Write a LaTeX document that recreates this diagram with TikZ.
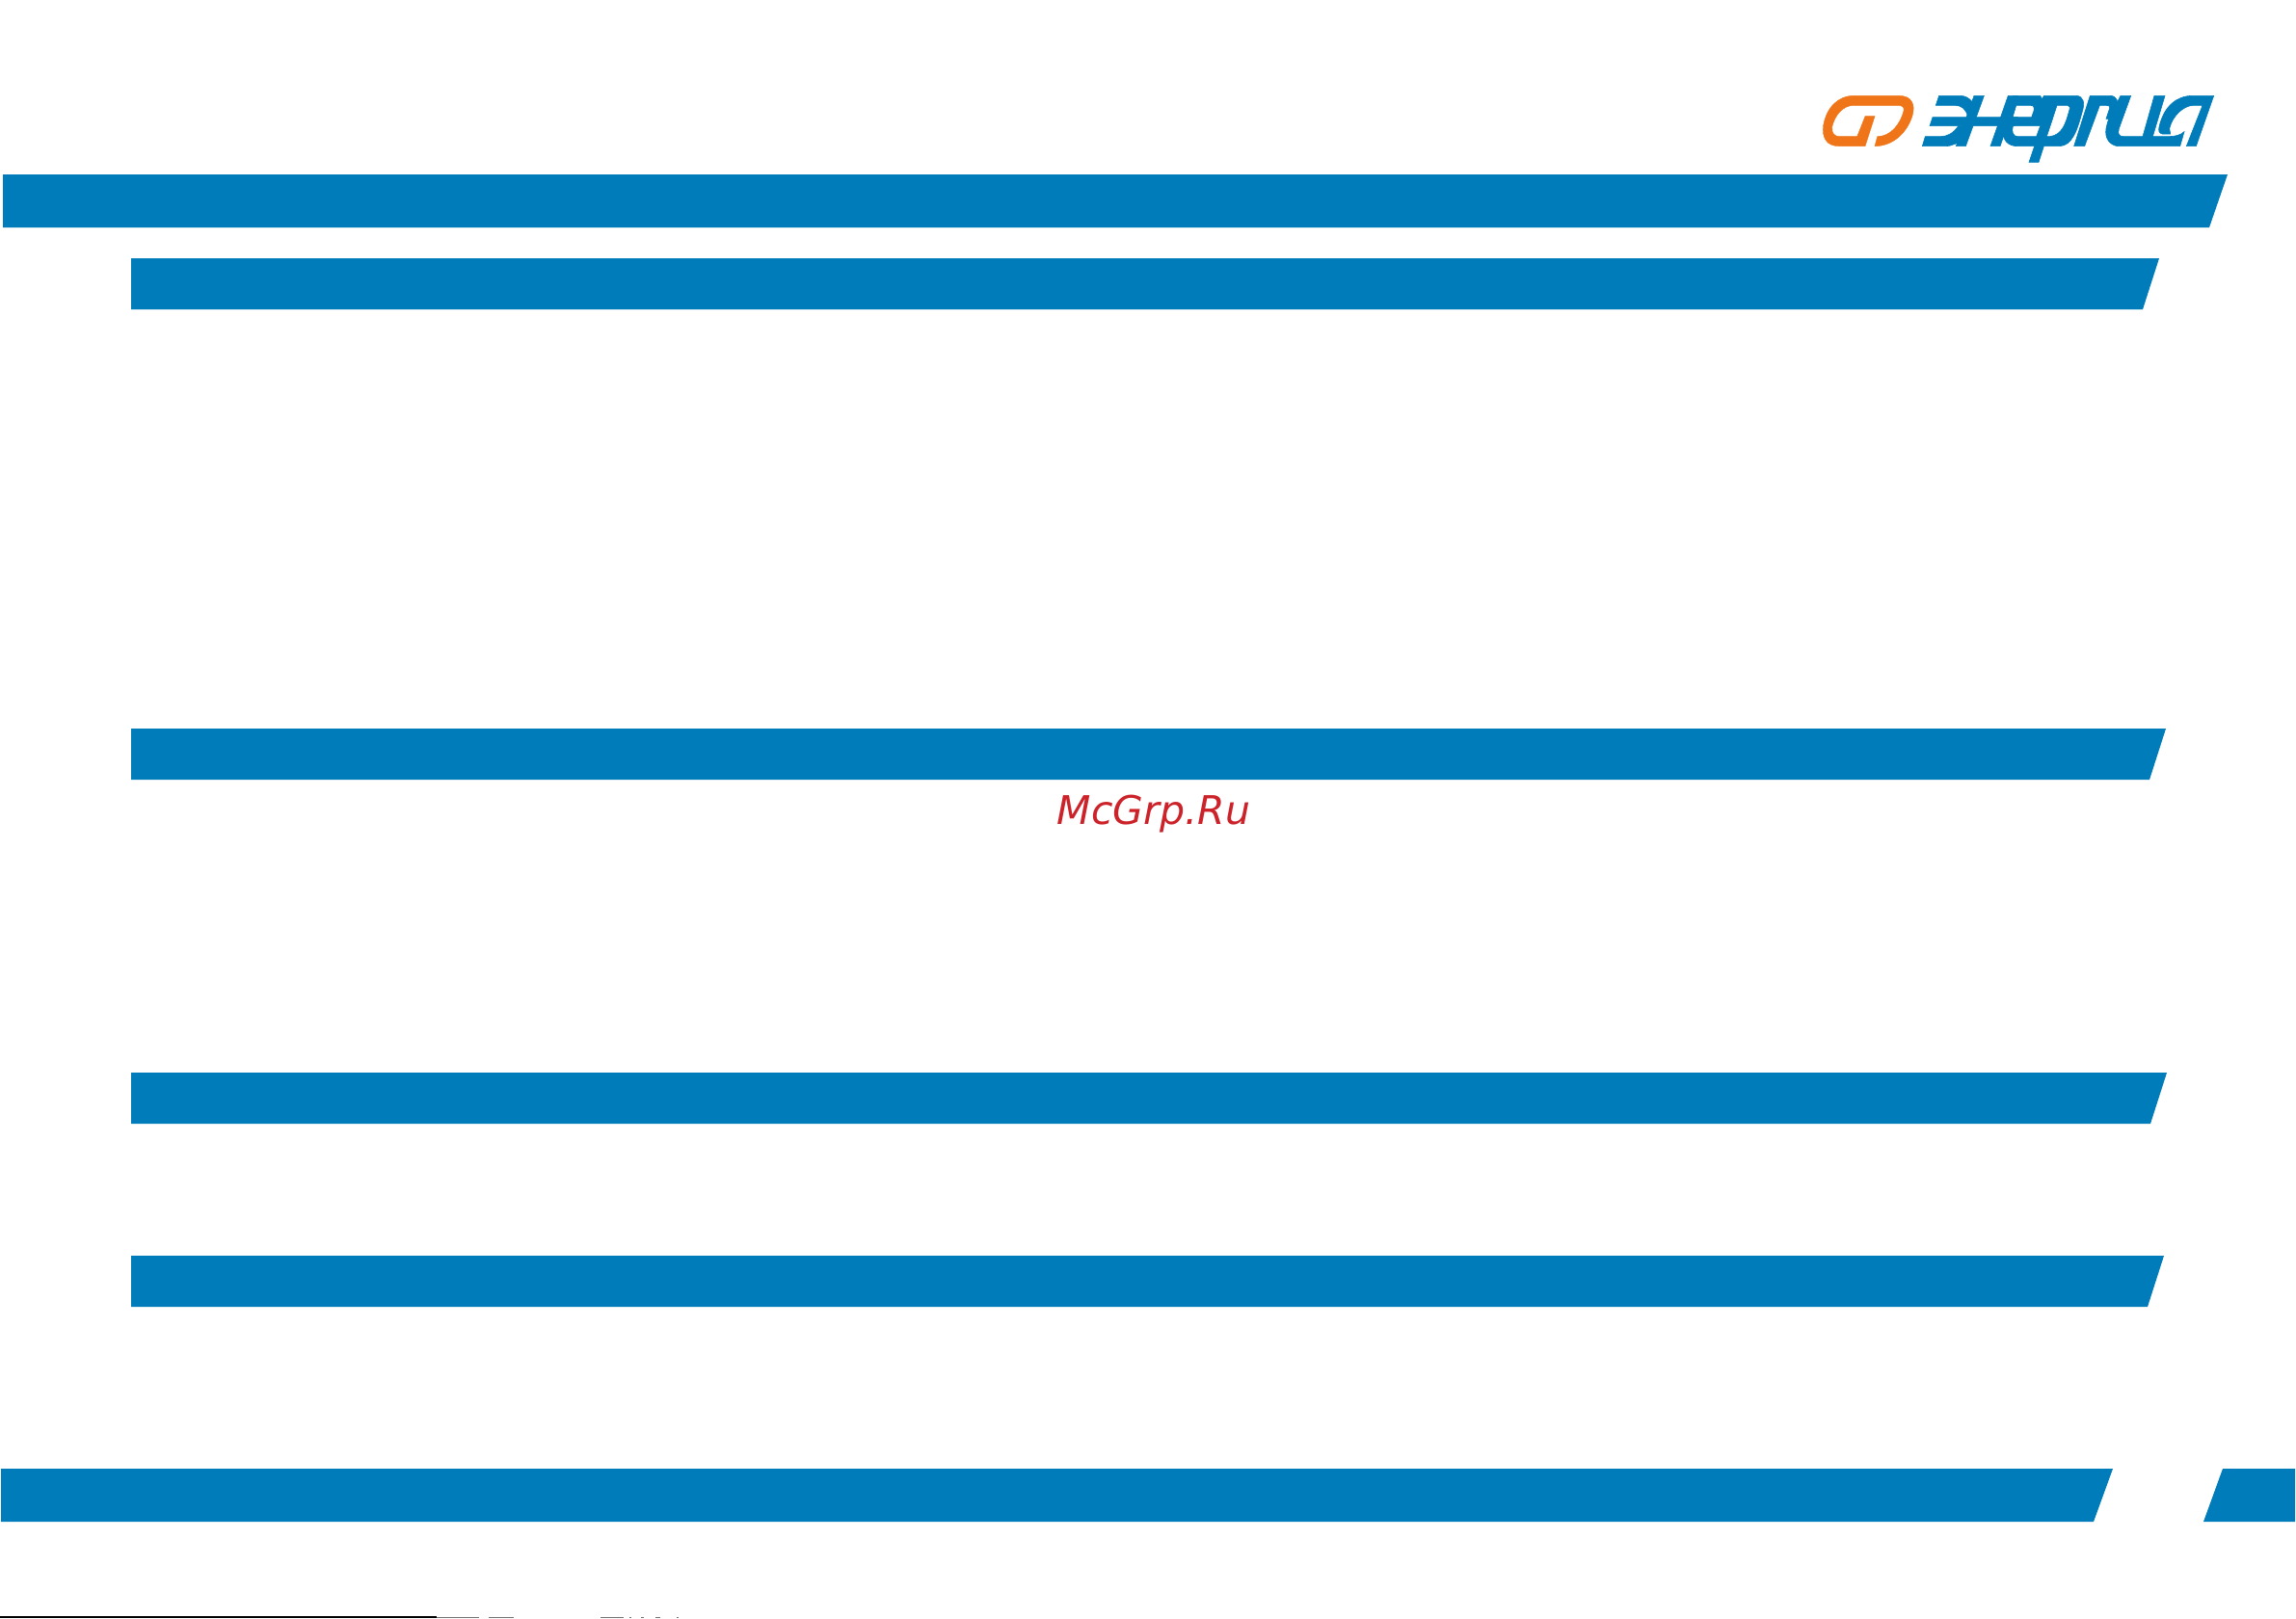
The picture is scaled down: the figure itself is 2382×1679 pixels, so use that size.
\documentclass[tikz,border=0pt]{standalone}
\usepackage{fontspec}
\setmainfont{DejaVu Sans}
\definecolor{barblue}{HTML}{007CBA}
\definecolor{logoorange}{HTML}{F07518}
\definecolor{markred}{HTML}{CC2229}
\tikzset{
	,barfill/.style = {fill=barblue}
	,logoblue/.style = {fill=barblue, draw=barblue, line width=0.6pt}
	,logoring/.style = {fill=logoorange, draw=logoorange, line width=0.4pt}
	,marktext/.style = {font=\fontsize{41}{41}\selectfont\itshape, text=markred, anchor=base, inner sep=0pt}
	,cutrow/.style = {fill=black}
	,cutrowb/.style = {fill=black!55}
}
\begin{document}
\begin{tikzpicture}[x=1pt, y=-1pt]
		\useasboundingbox (0,0) rectangle (2382,1679);
		% bars
		\fill[barfill] (3,181) -- (2311,181) -- (2292,236) -- (3,236) -- cycle;
		\fill[barfill] (136,268) -- (2240,268) -- (2223,321) -- (136,321) -- cycle;
		\fill[barfill] (136,756) -- (2247,756) -- (2230,809) -- (136,809) -- cycle;
		\fill[barfill] (136,1113) -- (2248,1113) -- (2231,1166) -- (136,1166) -- cycle;
		\fill[barfill] (136,1303) -- (2245,1303) -- (2228,1356) -- (136,1356) -- cycle;
		\fill[barfill] (1,1524) -- (2192,1524) -- (2172,1579) -- (1,1579) -- cycle;
		\fill[barfill] (2306,1524) -- (2381,1524) -- (2381,1579) -- (2286,1579) -- cycle;
		\node[marktext] (mark) at (1197,855) {McGrp.Ru};
		% logo
		\begin{scope}[shift={(1860,80)}, scale=1/3]
			\filldraw[logoring] (225,215) -- (145,215) .. controls (105,215) and (90,190) .. (95,150)
				.. controls (105,95) and (140,58) .. (190,58) -- (330,58)
				.. controls (370,58) and (382,85) .. (372,120)
				.. controls (355,175) and (310,215) .. (255,215) -- (263,185)
				.. controls (305,185) and (335,145) .. (345,105)
				.. controls (348,95) and (340,88) .. (328,88) -- (190,88)
				.. controls (155,88) and (130,120) .. (122,155)
				.. controls (120,175) and (130,185) .. (145,185) -- (200,185)
				-- (225,122) -- (255,122) -- cycle;
			% letters
			\filldraw[logoblue] (455,58) -- (520,58) .. controls (535,58) and (548,65) .. (556,75)
				-- (575,90) -- (560,125) -- (545,125) .. controls (540,100) and (525,88) .. (505,88)
				-- (445,88) -- cycle;
			\filldraw[logoblue] (564,58) -- (595,58) -- (538,215) -- (508,215) -- cycle;
			\filldraw[logoblue] (435,125) -- (700,125) -- (690,152) -- (426,152) -- cycle;
			\filldraw[logoblue] (412,185) -- (460,185) .. controls (480,185) and (500,175) .. (515,152)
				-- (530,152) -- (515,205) -- (505,208) .. controls (495,213) and (485,215) .. (470,215)
				-- (403,215) -- cycle;
			\filldraw[logoblue] (670,58) -- (700,58) -- (645,215) -- (615,215) -- cycle;
			\filldraw[logoblue, even odd rule] (685,58) -- (770,58) -- (775,68) -- (782,58) -- (880,58)
				.. controls (905,58) and (910,80) .. (900,110)
				.. controls (885,165) and (870,213) .. (830,215)
				-- (781,215) -- (765,265) -- (735,265) -- (752,215) -- (700,215)
				.. controls (668,215) and (652,195) .. (655,165) -- cycle
				(695,88) -- (740,88) .. controls (750,88) and (752,95) .. (750,105) -- (743,125) -- (684,125) -- cycle
				(685,152) -- (770,152) -- (758,185) -- (700,185) .. controls (685,185) and (680,170) .. (685,152) -- cycle
				(822,88) -- (855,88) .. controls (862,88) and (864,95) .. (860,105)
				.. controls (850,140) and (840,180) .. (800,185) -- (790,185) -- cycle;
			\filldraw[logoblue] (925,58) -- (985,58) .. controls (1010,58) and (1015,75) .. (1005,105)
				-- (985,130) -- (975,130) -- (985,100) .. controls (988,92) and (985,88) .. (975,88) -- (955,88)
				-- (908,215) -- (875,215) -- cycle;
			\filldraw[logoblue] (1020,58) -- (1052,58) -- (1015,160) .. controls (1010,178) and (1015,185) .. (1030,185)
				-- (1089,185) -- (1125,58) -- (1158,58) -- (1120,185) -- (1170,185)
				.. controls (1190,185) and (1208,180) .. (1218,170) -- (1205,215)
				-- (1010,215) .. controls (985,210) and (970,190) .. (975,160)
				.. controls (978,145) and (982,130) .. (988,120) -- cycle;
			\filldraw[logoblue] (1310,58) -- (1255,215) -- (1225,215) -- (1275,88) -- (1245,88)
				.. controls (1215,90) and (1182,120) .. (1172,160) -- (1175,177) -- (1150,177)
				.. controls (1138,175) and (1138,165) .. (1140,155)
				.. controls (1155,90) and (1195,58) .. (1245,58) -- cycle;
		\end{scope}
		% cut row
		\fill[cutrow] (0,1677) rectangle (453,1679);
		\foreach \a/\b in {453/497,507/533,623/647,653/655,665/668,680/685,702/704}
			\fill[cutrowb] (\a,1677.5) rectangle (\b,1679);
	\end{tikzpicture}
\end{document}
